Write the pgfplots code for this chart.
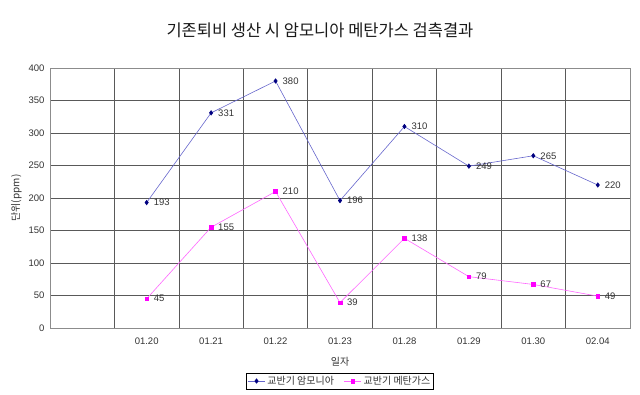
\documentclass[border=0pt]{standalone}
\usepackage{pgfplots}
\pgfplotsset{compat=1.18}
\usepackage{fontspec}
\setmainfont{Liberation Sans}
\newfontfamily\kr{Noto Sans CJK KR}
\definecolor{amline}{HTML}{6666CC}
\definecolor{ammark}{HTML}{000080}
\definecolor{meline}{HTML}{FF66FF}
\definecolor{memark}{HTML}{FF00FF}
\definecolor{txt}{HTML}{333333}
\begin{document}
\begin{tikzpicture}
\path[use as bounding box] (0,0) rectangle (640pt,394pt);
\begin{axis}[
  at={(50pt,66pt)}, anchor=south west,
  scale only axis, width=580pt, height=260pt,
  xmin=-0.5, xmax=8.5, ymin=0, ymax=400,
  xtick={1,...,8},
  xticklabels={01.20,01.21,01.22,01.23,01.28,01.29,01.30,02.04},
  minor xtick={0.5,1.5,...,7.5},
  xminorgrids, ymajorgrids,
  ytick={0,50,...,400},
  major tick length=0pt, minor tick length=0pt,
  grid style={black!65, line width=0.7pt},
  minor grid style={black!65, line width=0.7pt},
  axis line style={black!45, line width=0.7pt},
  tick label style={font=\fontsize{9.5}{11}\selectfont, text=txt},
  /pgf/number format/assume math mode=true,
  xticklabel style={yshift=-6pt},
  yticklabel style={xshift=-2pt},
  xlabel={\kr 일자},
  xlabel style={at={(axis description cs:0.5,-0.131)}, anchor=center, font=\fontsize{10}{11}\selectfont, text=txt},
  ylabel={\kr 단위(ppm)},
  ylabel style={font=\fontsize{10}{11}\selectfont, text=txt},
  legend columns=2,
  legend style={at={(axis description cs:0.5,-0.204)}, anchor=center, draw=black, line width=0.6pt, font=\kr\fontsize{10}{11}\selectfont, text=txt, inner sep=1pt, /tikz/every even column/.append style={column sep=8pt}},
  nodes near coords,
  every node near coord/.append style={anchor=west, xshift=3.5pt, font=\fontsize{9.5}{11}\selectfont, text=txt},
  clip=false,
]
\addplot[amline, line width=0.6pt, mark=diamond*, mark size=2.2pt, mark options={ammark, fill=ammark}]
 coordinates {(1,193) (2,331) (3,380) (4,196) (5,310) (6,249) (7,265) (8,220)};
\addlegendentry{교반기 암모니아}
\addplot[meline, line width=0.6pt, mark=square*, mark size=1.8pt, mark options={memark, fill=memark}]
 coordinates {(1,45) (2,155) (3,210) (4,39) (5,138) (6,79) (7,67) (8,49)};
\addlegendentry{교반기 메탄가스}
\node[font=\kr\fontsize{16.5}{18}\selectfont, text=black!90] at (rel axis cs:0.4655,1.146) {기존퇴비 생산 시 암모니아 메탄가스 검측결과};
\end{axis}
\end{tikzpicture}
\end{document}
